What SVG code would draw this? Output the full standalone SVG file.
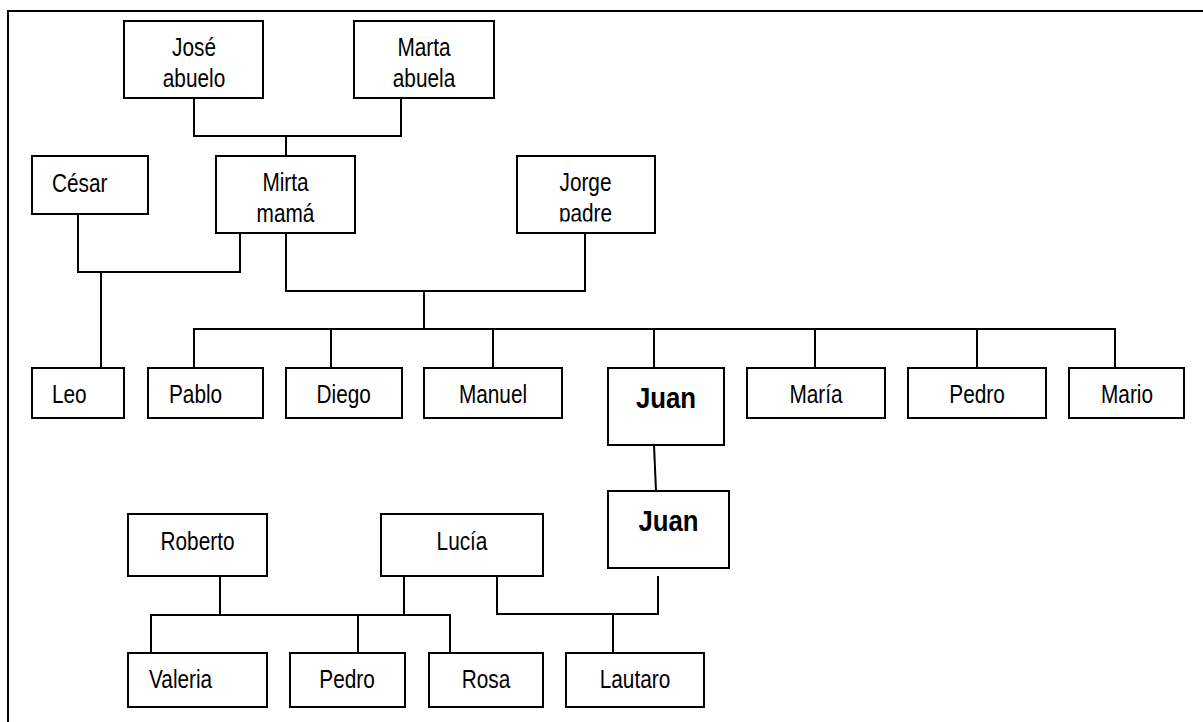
<svg xmlns="http://www.w3.org/2000/svg" width="1203" height="722" viewBox="0 0 1203 722">
<style>
.box{fill:#fff;stroke:#000;stroke-width:2}
.ln{fill:none;stroke:#000;stroke-width:2}
.t{font-family:"Liberation Sans",Arial,sans-serif;font-size:26px;fill:#000}
.c{text-anchor:middle}
.b{font-weight:bold;font-size:30px}
</style>
<defs>
<clipPath id="jorgeClip"><rect x="517" y="156" width="138" height="65.5"/></clipPath>
</defs>
<rect x="0" y="0" width="1203" height="722" fill="#fff"/>
<path class="ln" d="M8,722 V11 H1203"/>
<g id="connectors">
<path class="ln" d="M194,98 V136 H401 V98 M286,136 V156"/>
<path class="ln" d="M78,214 V272 H240 V233 M101,272 V368"/>
<path class="ln" d="M286,233 V291 H585 V233 M424,291 V329"/>
<path class="ln" d="M194,368 V329 H1115 V368 M331,329 V368 M493,329 V368 M654,329 V368 M815,329 V368 M977,329 V368"/>
<path class="ln" d="M654,445 L656,491"/>
<path class="ln" d="M220,576 V615 M151,653 V615 H450 V653 M404,576 V615 M358,615 V653"/>
<path class="ln" d="M497,576 V614 H658 V576 M613,614 V653"/>
</g>
<g id="jose"><rect class="box" x="124" y="21" width="139" height="77"/><text class="t c" transform="translate(194,56) scale(0.8,1)">José</text><text class="t c" transform="translate(194,87) scale(0.8,1)">abuelo</text></g>
<g id="marta"><rect class="box" x="354" y="21" width="140" height="77"/><text class="t c" transform="translate(424,56) scale(0.8,1)">Marta</text><text class="t c" transform="translate(424,87) scale(0.8,1)">abuela</text></g>
<g id="cesar"><rect class="box" x="32" y="156" width="116" height="58"/><text class="t" transform="translate(52,192) scale(0.8,1)">César</text></g>
<g id="mirta"><rect class="box" x="216" y="156" width="139" height="77"/><text class="t c" transform="translate(285.5,191) scale(0.8,1)">Mirta</text><text class="t c" transform="translate(285.5,222) scale(0.8,1)">mamá</text></g>
<g id="jorge"><rect class="box" x="517" y="156" width="138" height="77"/><g clip-path="url(#jorgeClip)"><text class="t c" transform="translate(585.5,191) scale(0.8,1)">Jorge</text><text class="t c" transform="translate(585.5,222) scale(0.8,1)">padre</text></g></g>
<g id="leo"><rect class="box" x="32" y="368" width="92" height="50"/><text class="t" transform="translate(52,403) scale(0.8,1)">Leo</text></g>
<g id="pablo"><rect class="box" x="148" y="368" width="115" height="50"/><text class="t" transform="translate(169,403) scale(0.8,1)">Pablo</text></g>
<g id="diego"><rect class="box" x="286" y="368" width="116" height="50"/><text class="t c" transform="translate(343.7,403) scale(0.8,1)">Diego</text></g>
<g id="manuel"><rect class="box" x="424" y="368" width="138" height="50"/><text class="t c" transform="translate(493,403) scale(0.8,1)">Manuel</text></g>
<g id="juan1"><rect class="box" x="608" y="368" width="116" height="77"/><text class="t c b" transform="translate(666,408) scale(0.86,1)">Juan</text></g>
<g id="maria"><rect class="box" x="747" y="368" width="138" height="50"/><text class="t c" transform="translate(816,403) scale(0.8,1)">María</text></g>
<g id="pedro1"><rect class="box" x="908" y="368" width="138" height="50"/><text class="t c" transform="translate(977,403) scale(0.8,1)">Pedro</text></g>
<g id="mario"><rect class="box" x="1069" y="368" width="115" height="50"/><text class="t c" transform="translate(1127,403) scale(0.8,1)">Mario</text></g>
<g id="juan2"><rect class="box" x="608" y="491" width="121" height="77"/><text class="t c b" transform="translate(668.5,531) scale(0.86,1)">Juan</text></g>
<g id="roberto"><rect class="box" x="128" y="514" width="139" height="62"/><text class="t c" transform="translate(197.5,550) scale(0.8,1)">Roberto</text></g>
<g id="lucia"><rect class="box" x="381" y="514" width="162" height="62"/><text class="t c" transform="translate(462,550) scale(0.8,1)">Lucía</text></g>
<g id="valeria"><rect class="box" x="128" y="653" width="139" height="54"/><text class="t" transform="translate(149,688) scale(0.8,1)">Valeria</text></g>
<g id="pedro2"><rect class="box" x="290" y="653" width="115" height="54"/><text class="t c" transform="translate(347,688) scale(0.8,1)">Pedro</text></g>
<g id="rosa"><rect class="box" x="429" y="653" width="114" height="54"/><text class="t c" transform="translate(486,688) scale(0.8,1)">Rosa</text></g>
<g id="lautaro"><rect class="box" x="566" y="653" width="138" height="54"/><text class="t c" transform="translate(635,688) scale(0.8,1)">Lautaro</text></g>
</svg>
